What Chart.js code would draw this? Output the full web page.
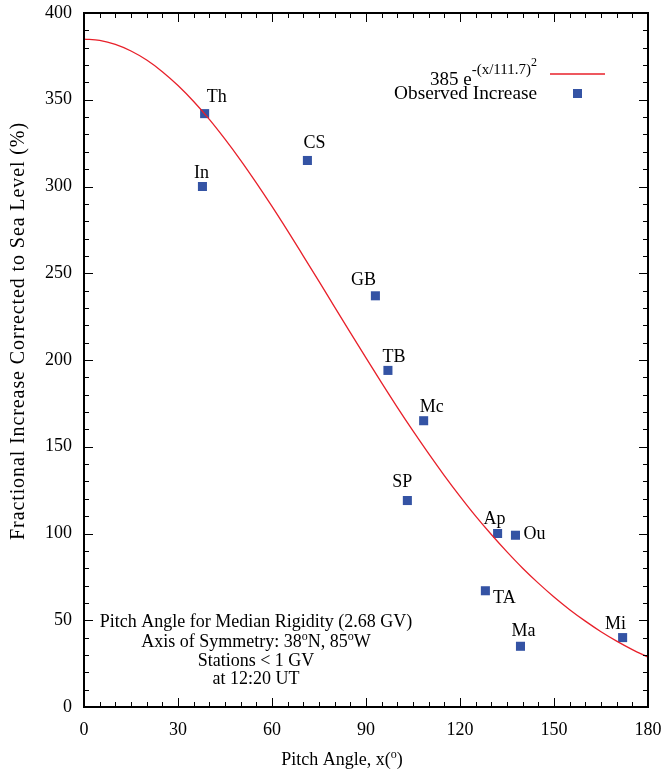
<!DOCTYPE html>
<html>
<head>
<meta charset="utf-8">
<title>Pitch angle distribution</title>
<script src="https://cdn.jsdelivr.net/npm/chart.js@4/dist/chart.umd.min.js"></script>
<style>
    html, body { margin: 0; padding: 0; background: #ffffff; }
    #chart-container { width: 663px; height: 772px; }
</style>
</head>
<body>
<div id="chart-container"><canvas id="chart" width="663" height="772"></canvas></div>
<script>
// observed increase per station
const stationNames = ['Th', 'In', 'CS', 'GB', 'TB', 'Mc', 'SP', 'Ap', 'Ou', 'TA', 'Ma', 'Mi'];
const stationAngles = [38.5, 37.8, 71.3, 93.0, 97.0, 108.4, 103.2, 132.0, 137.7, 128.1, 139.3, 171.9];
const stationIncrease = [342, 300, 315, 237, 194, 165, 119, 100, 99, 67, 35, 40];

// fitted curve 385 e^-(x/111.7)^2, sampled every 5 degrees
const curveAngles = [0, 5, 10, 15, 20, 25, 30, 35, 40, 45, 50, 55, 60, 65, 70, 75, 80, 85, 90,
    95, 100, 105, 110, 115, 120, 125, 130, 135, 140, 145, 150, 155, 160, 165, 170, 175, 180];
const curveValues = [385.0, 384.2, 381.9, 378.1, 372.9, 366.2, 358.2, 349.0, 338.7, 327.3, 315.1,
    302.1, 288.5, 274.4, 259.9, 245.3, 230.5, 215.8, 201.2, 186.8, 172.7, 159.1, 146.0, 133.4,
    121.4, 110.0, 99.4, 89.4, 80.0, 71.4, 63.4, 56.1, 49.5, 43.4, 38.0, 33.1, 28.7];

const xTicks = [0, 30, 60, 90, 120, 150, 180];
const yTicks = [0, 50, 100, 150, 200, 250, 300, 350, 400];

// label placement around each marker, in pixels (text centre minus marker centre)
const labelOffsets = [[12, -16], [-1, -13], [7, -17], [-12, -16], [6, -13], [8, -13],
    [-5, -18], [-3, -14], [19, -1], [19, 8], [3, -15], [-7, -13]];

const serif = '"Liberation Serif", "Times New Roman", serif';
const markerColor = '#3453a4';
const curveColor = '#e8202a';

window.onload = function() {
    createChart();
}

function font(size) {
    return `${size}px ${serif}`;
}

// draws text made of parts {text, size, rise} on one baseline
function drawRich(ctx, parts, x, y, align) {
    let width = 0;
    parts.forEach(part => {
        ctx.font = font(part.size);
        width += ctx.measureText(part.text).width;
    });

    let left = x;
    if (align === 'center') {
        left = x - width / 2;
    } else if (align === 'right') {
        left = x - width;
    }

    ctx.textAlign = 'left';
    ctx.textBaseline = 'alphabetic';
    parts.forEach(part => {
        ctx.font = font(part.size);
        ctx.fillText(part.text, left, y - (part.rise || 0));
        left += ctx.measureText(part.text).width;
    });
}

const framePlugin = {
    id: 'frame',
    afterDraw(chart) {
        const ctx = chart.ctx;
        const area = chart.chartArea;
        const xs = chart.scales.x;
        const ys = chart.scales.y;

        ctx.save();
        ctx.strokeStyle = '#000000';
        ctx.lineWidth = 1;

        // inward ticks on all four sides
        ctx.beginPath();
        for (let v = 0; v <= 180; v += 5) {
            const px = Math.round(xs.getPixelForValue(v)) + 0.5;
            const len = v % 30 === 0 ? 9 : 5;
            ctx.moveTo(px, area.bottom);
            ctx.lineTo(px, area.bottom - len);
            ctx.moveTo(px, area.top);
            ctx.lineTo(px, area.top + len);
        }
        for (let v = 0; v <= 400; v += 10) {
            const py = Math.round(ys.getPixelForValue(v)) + 0.5;
            const len = v % 50 === 0 ? 9 : 5;
            ctx.moveTo(area.left, py);
            ctx.lineTo(area.left + len, py);
            ctx.moveTo(area.right, py);
            ctx.lineTo(area.right - len, py);
        }
        ctx.stroke();

        ctx.lineWidth = 2;
        ctx.strokeRect(area.left, area.top, area.right - area.left, area.bottom - area.top);

        ctx.fillStyle = '#000000';

        // station labels
        stationNames.forEach((name, i) => {
            const px = xs.getPixelForValue(stationAngles[i]) + labelOffsets[i][0];
            const py = ys.getPixelForValue(stationIncrease[i]) + labelOffsets[i][1];
            ctx.font = font(18);
            ctx.textAlign = 'center';
            ctx.textBaseline = 'middle';
            ctx.fillText(name, px, py);
        });

        // legend
        drawRich(ctx, [
            { text: '385 e', size: 19 },
            { text: '-(x/111.7)', size: 15, rise: 11 },
            { text: '2', size: 12, rise: 19 },
        ], 537, 85, 'right');
        drawRich(ctx, [{ text: 'Observed Increase', size: 19.3 }], 537, 99, 'right');

        ctx.strokeStyle = curveColor;
        ctx.lineWidth = 1.3;
        ctx.beginPath();
        ctx.moveTo(550, 74);
        ctx.lineTo(605, 74);
        ctx.stroke();
        ctx.fillStyle = markerColor;
        ctx.fillRect(573, 89, 9, 9);

        // note in the lower left
        ctx.fillStyle = '#000000';
        drawRich(ctx, [{ text: 'Pitch Angle for Median Rigidity (2.68 GV)', size: 18 }], 256, 627, 'center');
        drawRich(ctx, [
            { text: 'Axis of Symmetry: 38', size: 18 },
            { text: 'o', size: 12, rise: 7 },
            { text: 'N, 85', size: 18 },
            { text: 'o', size: 12, rise: 7 },
            { text: 'W', size: 18 },
        ], 256, 647, 'center');
        drawRich(ctx, [{ text: 'Stations < 1 GV', size: 18 }], 256, 666, 'center');
        drawRich(ctx, [{ text: 'at 12:20 UT', size: 18 }], 256, 684, 'center');

        // axis titles
        drawRich(ctx, [
            { text: 'Pitch Angle, x(', size: 18 },
            { text: 'o', size: 12, rise: 7 },
            { text: ')', size: 18 },
        ], 342, 765, 'center');

        ctx.translate(24, 331);
        ctx.rotate(-Math.PI / 2);
        ctx.letterSpacing = '0.9px';
        drawRich(ctx, [{ text: 'Fractional Increase Corrected to Sea Level (%)', size: 20 }], 0, 0, 'center');
        ctx.letterSpacing = '0px';

        ctx.restore();
    },
};

function createChart() {
    const chartCanvas = document.querySelector('#chart');

    const curveData = curveAngles.map((angle, i) => {
        return { x: angle, y: curveValues[i] };
    });

    const stationData = stationAngles.map((angle, i) => {
        return { x: angle, y: stationIncrease[i] };
    });

    new Chart(chartCanvas, {
        type: 'scatter',
        data: {
            datasets: [
                {
                    type: 'line',
                    label: '385 e^-(x/111.7)^2',
                    data: curveData,
                    borderColor: curveColor,
                    borderWidth: 1.3,
                    pointRadius: 0,
                    cubicInterpolationMode: 'monotone',
                    fill: false,
                },
                {
                    label: 'Observed Increase',
                    data: stationData,
                    pointStyle: 'rect',
                    pointRadius: 6.4,
                    pointBackgroundColor: markerColor,
                    pointBorderWidth: 0,
                    borderColor: markerColor,
                },
            ],
        },
        options: {
            responsive: false,
            animation: false,
            layout: {
                padding: { left: 0, right: 15, top: 13, bottom: 0 },
            },
            plugins: {
                legend: { display: false },
                tooltip: { enabled: false },
            },
            scales: {
                x: {
                    type: 'linear',
                    min: 0,
                    max: 180,
                    afterBuildTicks: scale => {
                        scale.ticks = xTicks.map(v => ({ value: v }));
                    },
                    afterFit: scale => {
                        scale.height = 65;
                        // labels may hang over the frame, as in the original
                        scale.paddingLeft = 0;
                        scale.paddingRight = 0;
                    },
                    grid: { display: false, drawTicks: false },
                    border: { display: false },
                    ticks: {
                        padding: 12,
                        maxRotation: 0,
                        color: '#000000',
                        font: { family: serif, size: 18 },
                    },
                },
                y: {
                    type: 'linear',
                    min: 0,
                    max: 400,
                    afterBuildTicks: scale => {
                        scale.ticks = yTicks.map(v => ({ value: v }));
                    },
                    afterFit: scale => {
                        scale.width = 84;
                        scale.paddingTop = 0;
                        scale.paddingBottom = 0;
                    },
                    grid: { display: false, drawTicks: false },
                    border: { display: false },
                    ticks: {
                        padding: 12,
                        color: '#000000',
                        font: { family: serif, size: 18 },
                    },
                },
            },
        },
        plugins: [framePlugin],
    });
}
</script>
</body>
</html>
